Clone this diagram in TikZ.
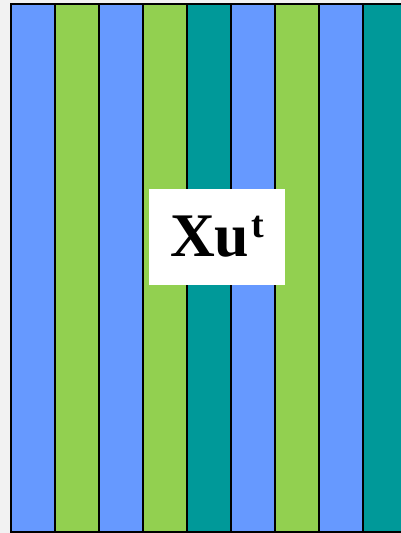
\documentclass[tikz,border=0pt]{standalone}
\usepackage{fontspec}
\setmainfont{Liberation Serif}
\definecolor{stripeblue}{HTML}{6699FF}
\definecolor{stripegreen}{HTML}{92D050}
\definecolor{stripeteal}{HTML}{009999}
\definecolor{pagegray}{HTML}{F2F2F2}
\begin{document}
\begin{tikzpicture}[x=1pt,y=-1pt]
\path[use as bounding box] (0,0) rectangle (401,533);
\fill[pagegray] (0,0) rectangle (401,533);
\foreach \c [count=\i from 0] in {stripeblue,stripegreen,stripeblue,stripegreen,stripeteal,stripeblue,stripegreen,stripeblue,stripeteal}
  \filldraw[fill=\c,draw=black,line width=1.3pt] ({11+44*\i},4) rectangle ({55+44*\i},532);
\node[fill=white,inner sep=0pt,minimum width=136pt,minimum height=96pt,font=\fontsize{62}{70}\selectfont\bfseries] (label) at (217,237) {Xu\kern2pt\raisebox{19pt}{\fontsize{38}{40}\selectfont t}};
\end{tikzpicture}
\end{document}
